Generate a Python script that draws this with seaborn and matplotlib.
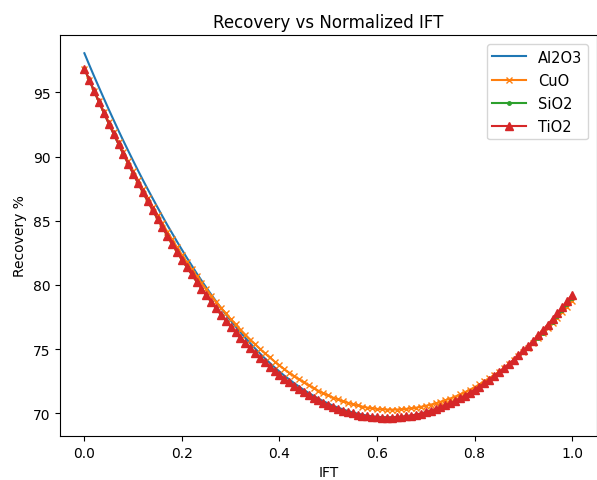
import matplotlib
matplotlib.use("Agg")
import matplotlib.pyplot as plt
import seaborn as sns
import numpy as np
import pandas as pd

ift = [round(i * 0.01, 2) for i in range(101)]

al2o3 = [98.05, 97.14, 96.25, 95.38, 94.52, 93.67, 92.84, 92.02, 91.22, 90.44,
         89.67, 88.91, 88.17, 87.45, 86.74, 86.04, 85.35, 84.67, 84.02, 83.37,
         82.74, 82.12, 81.52, 80.92, 80.35, 79.79, 79.25, 78.72, 78.21, 77.71,
         77.22, 76.76, 76.32, 75.87, 75.45, 75.05, 74.66, 74.28, 73.93, 73.58,
         73.25, 72.93, 72.64, 72.35, 72.08, 71.82, 71.58, 71.36, 71.14, 70.94,
         70.76, 70.59, 70.44, 70.30, 70.18, 70.07, 69.97, 69.89, 69.82, 69.77,
         69.73, 69.70, 69.69, 69.69, 69.71, 69.73, 69.78, 69.83, 69.90, 69.98,
         70.08, 70.20, 70.32, 70.46, 70.60, 70.77, 70.94, 71.14, 71.34, 71.56,
         71.78, 72.02, 72.28, 72.54, 72.83, 73.12, 73.42, 73.74, 74.08, 74.42,
         74.78, 75.14, 75.52, 75.91, 76.31, 76.73, 77.17, 77.60, 78.06, 78.52,
         79.00]

cuo = [96.85, 95.98, 95.14, 94.31, 93.50, 92.69, 91.90, 91.12, 90.36, 89.62,
       88.89, 88.17, 87.46, 86.78, 86.10, 85.44, 84.79, 84.15, 83.54, 82.93,
       82.34, 81.77, 81.22, 80.68, 80.16, 79.65, 79.16, 78.69, 78.22, 77.78,
       77.34, 76.92, 76.52, 76.12, 75.74, 75.38, 75.02, 74.67, 74.35, 74.03,
       73.73, 73.43, 73.16, 72.89, 72.64, 72.40, 72.17, 71.96, 71.75, 71.56,
       71.39, 71.22, 71.08, 70.93, 70.82, 70.71, 70.61, 70.52, 70.44, 70.38,
       70.34, 70.31, 70.29, 70.28, 70.29, 70.31, 70.34, 70.38, 70.43, 70.50,
       70.58, 70.67, 70.77, 70.89, 71.01, 71.15, 71.30, 71.47, 71.64, 71.83,
       72.03, 72.25, 72.48, 72.71, 72.97, 73.24, 73.52, 73.82, 74.12, 74.44,
       74.78, 75.11, 75.47, 75.84, 76.22, 76.61, 77.02, 77.43, 77.86, 78.30,
       78.75]

sio2 = [96.85, 95.96, 95.09, 94.24, 93.40, 92.57, 91.76, 90.96, 90.18, 89.42,
        88.67, 87.93, 87.21, 86.51, 85.82, 85.14, 84.48, 83.83, 83.20, 82.58,
        81.98, 81.39, 80.82, 80.26, 79.72, 79.19, 78.68, 78.18, 77.69, 77.22,
        76.76, 76.32, 75.90, 75.48, 75.08, 74.70, 74.33, 73.97, 73.63, 73.30,
        72.99, 72.69, 72.41, 72.14, 71.88, 71.64, 71.41, 71.20, 71.00, 70.81,
        70.64, 70.48, 70.34, 70.20, 70.09, 69.99, 69.90, 69.82, 69.76, 69.71,
        69.68, 69.66, 69.65, 69.65, 69.67, 69.70, 69.75, 69.80, 69.87, 69.95,
        70.05, 70.17, 70.29, 70.43, 70.57, 70.74, 70.91, 71.11, 71.31, 71.53,
        71.75, 71.99, 72.25, 72.51, 72.80, 73.09, 73.39, 73.71, 74.05, 74.39,
        74.75, 75.11, 75.49, 75.89, 76.29, 76.71, 77.15, 77.59, 78.05, 78.52,
        79.00]

tio2 = [96.85, 95.96, 95.09, 94.24, 93.40, 92.57, 91.76, 90.96, 90.18, 89.42,
        88.67, 87.93, 87.21, 86.51, 85.82, 85.14, 84.48, 83.83, 83.20, 82.58,
        81.98, 81.39, 80.82, 80.26, 79.72, 79.19, 78.68, 78.18, 77.69, 77.22,
        76.76, 76.32, 75.90, 75.48, 75.08, 74.70, 74.33, 73.97, 73.63, 73.30,
        72.99, 72.69, 72.41, 72.14, 71.88, 71.64, 71.41, 71.20, 71.00, 70.81,
        70.64, 70.48, 70.34, 70.20, 70.09, 69.99, 69.90, 69.82, 69.76, 69.71,
        69.68, 69.66, 69.65, 69.66, 69.68, 69.71, 69.76, 69.82, 69.89, 69.98,
        70.08, 70.20, 70.33, 70.47, 70.62, 70.79, 70.97, 71.17, 71.38, 71.60,
        71.83, 72.08, 72.34, 72.61, 72.90, 73.20, 73.51, 73.84, 74.18, 74.53,
        74.90, 75.27, 75.66, 76.07, 76.48, 76.91, 77.36, 77.81, 78.28, 78.76,
        79.25]

series_names = ["Al2O3", "CuO", "SiO2", "TiO2"]
series_values = [al2o3, cuo, sio2, tio2]
colors = ["#1f77b4", "#ff7f0e", "#2ca02c", "#d62728"]
markers = [None, "x", ".", "^"]
marker_sizes = [None, 5, 5, 5.5]

plt.rcParams["font.family"] = ["DejaVu Sans"]
plt.rcParams["font.size"] = 10

fig = plt.figure(figsize=(5.97, 4.81), dpi=100)
ax = fig.add_axes([60 / 597, 44 / 481, 536.5 / 597, 401 / 481])

for name, vals, col, mk, ms in zip(series_names, series_values, colors,
                                   markers, marker_sizes):
    df = pd.DataFrame({"IFT": ift, "Recovery": vals})
    kw = dict(color=col, linewidth=1.5, label=name)
    if mk is not None:
        kw.update(marker=mk, markersize=ms, markeredgewidth=1.0,
                  markeredgecolor=col)
    sns.lineplot(data=df, x="IFT", y="Recovery", ax=ax, errorbar=None,
                 sort=False, **kw)

ax.set_title("Recovery vs Normalized IFT", fontsize=12)
ax.set_xlabel("IFT", fontsize=10)
ax.set_ylabel("Recovery %", fontsize=10)
ax.set_xticks([0.0, 0.2, 0.4, 0.6, 0.8, 1.0])
ax.set_yticks([70, 75, 80, 85, 90, 95])
ax.tick_params(labelsize=10, length=3.5, width=0.8)
for sp in ax.spines.values():
    sp.set_linewidth(0.8)
ax.legend(loc="upper right", fontsize=10.5, handlelength=2.3,
          labelspacing=0.55, borderaxespad=0.6)

fig.savefig("out.png", dpi=100)
